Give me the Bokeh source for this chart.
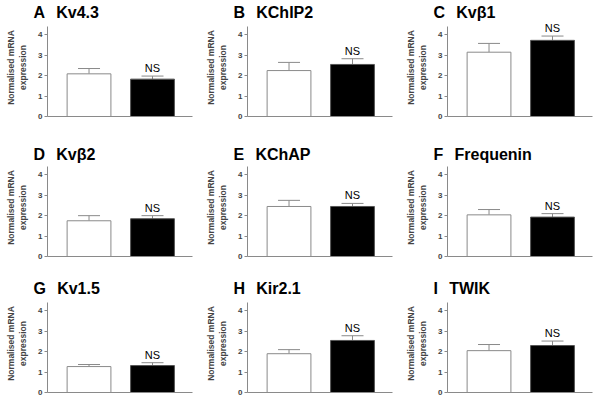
from bokeh.plotting import figure
from bokeh.layouts import column, row
from bokeh.models import Range1d, FixedTicker, Whisker, TeeHead, ColumnDataSource, Title
from bokeh.embed import file_html
from bokeh.resources import INLINE
from bokeh.core.properties import value

letters = ["A", "B", "C", "D", "E", "F", "G", "H", "I"]
genes = ["Kv4.3", "KChIP2", "Kv\u03b21", "Kv\u03b22", "KChAP", "Frequenin", "Kv1.5", "Kir2.1", "TWIK"]
white_mean = [2.09, 2.25, 3.15, 1.75, 2.45, 2.04, 1.27, 1.90, 2.05]
white_err = [0.26, 0.40, 0.43, 0.25, 0.30, 0.26, 0.10, 0.20, 0.30]
black_mean = [1.83, 2.55, 3.73, 1.85, 2.45, 1.93, 1.32, 2.55, 2.30]
black_err = [0.15, 0.28, 0.21, 0.15, 0.15, 0.17, 0.14, 0.23, 0.22]
groups = [1, 2]
sig_text = "NS"
y_ticks = [0, 1, 2, 3, 4]
y_label = "Normalised mRNA\nexpression"

FONT = "Liberation Sans"
AXC = "#8a8a8a"

col_w = [200, 200, 200]
col_left = [47, 47, 47]
col_right = [8, 8, 8]
row_h = [136, 136, 135]
row_top = [18, 22, 22]
row_bot = [20, 16, 15]
title_standoff = [-5, -8, -5]

rows = []
for r in range(3):
    figs = []
    for c in range(3):
        i = r * 3 + c
        p = figure(width=col_w[c], height=row_h[r], output_backend="svg", toolbar_location=None,
                   x_range=Range1d(0.346, 2.63), y_range=Range1d(0, 4.8),
                   min_border_left=col_left[c], min_border_right=col_right[c],
                   min_border_top=row_top[r], min_border_bottom=row_bot[r])
        p.outline_line_color = None
        p.grid.visible = False
        p.background_fill_color = "white"
        p.border_fill_color = "white"

        src = ColumnDataSource(dict(x=groups, top=[white_mean[i], black_mean[i]],
                                    up=[white_mean[i] + white_err[i], black_mean[i] + black_err[i]],
                                    fill=["white", "black"], line=["#8a8a8a", "#555555"]))
        p.vbar(x="x", top="top", bottom=0, width=0.69, source=src,
               fill_color="fill", line_color="line", line_width=1)
        w = Whisker(base="x", lower="top", upper="up", source=src, dimension="height",
                    line_color="#8a8a8a", line_width=1,
                    upper_head=TeeHead(size=22, line_color="#8a8a8a", line_width=1),
                    lower_head=None)
        p.add_layout(w)

        p.text(x=[groups[1]], y=[black_mean[i] + black_err[i]], text=[sig_text],
               text_font=value(FONT), text_font_size="11px", text_align="center",
               text_baseline="bottom", y_offset=-2, text_color="black")

        ya = p.yaxis[0]
        ya.bounds = (0, 4.4)
        ya.ticker = FixedTicker(ticks=y_ticks)
        ya.minor_tick_line_color = None
        ya.major_tick_in = 0
        ya.major_tick_out = 3
        ya.major_tick_line_color = AXC
        ya.axis_line_color = AXC
        ya.major_label_text_font = FONT
        ya.major_label_text_font_style = "bold"
        ya.major_label_text_font_size = "8px"
        ya.major_label_standoff = 2
        ya.axis_label = y_label
        ya.axis_label_text_font = FONT
        ya.axis_label_text_font_style = "bold"
        ya.axis_label_text_font_size = "8.5px"
        ya.axis_label_standoff = 7

        xa = p.xaxis[0]
        xa.ticker = FixedTicker(ticks=[])
        xa.major_tick_line_color = None
        xa.minor_tick_line_color = None
        xa.major_label_text_font_size = "0px"
        xa.axis_line_color = AXC

        p.add_layout(Title(text=letters[i] + "\u2002\u2009" + genes[i], align="left", offset=-14,
                           standoff=title_standoff[r], text_font=FONT, text_font_style="bold",
                           text_font_size="16px", text_color="black"), "above")
        figs.append(p)
    rows.append(row(*figs))

layout = column(*rows)
open("out.html", "w").write(file_html(layout, INLINE))
